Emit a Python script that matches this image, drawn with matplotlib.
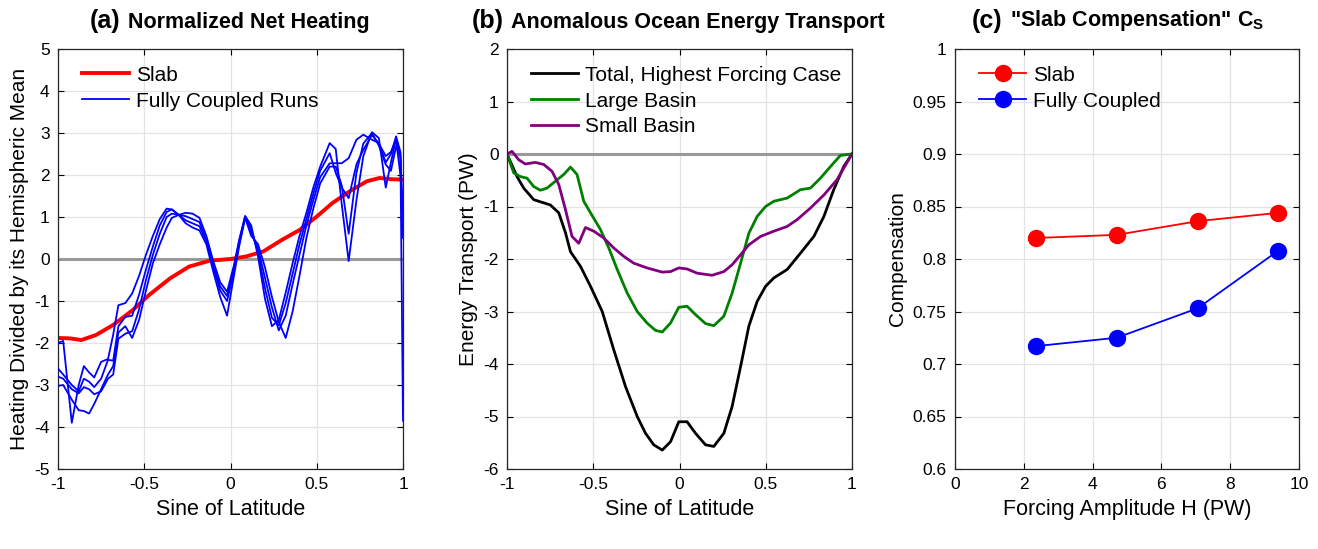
import matplotlib
matplotlib.use("Agg")
from matplotlib import pyplot as plt
from matplotlib.text import Annotation

plt.rcParams['font.family'] = ['Liberation Sans', 'DejaVu Sans']
plt.rcParams['mathtext.fontset'] = 'custom'
plt.rcParams['mathtext.bf'] = 'Liberation Sans:bold'

# ---- panel (a) data ----
slab_x = [-1.0, -0.93, -0.865, -0.78, -0.68, -0.565, -0.47, -0.35, -0.24, -0.12, 0.0,
          0.09, 0.19, 0.30, 0.40, 0.50, 0.59, 0.69, 0.79, 0.865, 0.93, 1.0]
slab_y = [-1.88, -1.89, -1.93, -1.81, -1.57, -1.21, -0.85, -0.46, -0.18, -0.04, 0.0,
          0.06, 0.18, 0.46, 0.69, 1.01, 1.33, 1.61, 1.85, 1.93, 1.90, 1.89]

run_x = [-1.00, -0.97, -0.92, -0.88, -0.85, -0.82, -0.79, -0.75, -0.71, -0.68,
         -0.65, -0.61, -0.57, -0.53, -0.49, -0.45, -0.41, -0.37, -0.34, -0.30,
         -0.26, -0.22, -0.18, -0.14, -0.10, -0.06, -0.02, 0.02, 0.05, 0.085,
         0.12, 0.16, 0.20, 0.24, 0.28, 0.32, 0.36, 0.40, 0.44, 0.48,
         0.52, 0.575, 0.61, 0.645, 0.685, 0.73, 0.77, 0.82, 0.86, 0.90,
         0.93, 0.96, 0.985, 1.00]
run1 = [-2.00, -1.95, -3.90, -3.00, -2.55, -2.70, -2.82, -2.45, -2.38, -1.80,
        -1.10, -1.05, -0.82, -0.40, 0.10, 0.55, 0.95, 1.20, 1.18, 1.05,
        1.10, 1.08, 0.98, 0.55, -0.05, -0.55, -0.78, -0.15, 0.45, 1.02,
        0.80, 0.05, -0.95, -1.60, -1.45, -0.80, -0.10, 0.55, 1.10, 1.70,
        2.20, 2.76, 2.62, 1.30, -0.05, 1.40, 2.45, 3.02, 2.88, 1.70,
        2.30, 2.86, 2.50, -3.85]
run2 = [-2.61, -2.75, -3.00, -3.15, -2.85, -2.92, -3.05, -2.85, -2.40, -2.42,
        -1.60, -1.38, -1.35, -0.85, -0.25, 0.30, 0.80, 1.12, 1.18, 1.05,
        1.02, 0.95, 0.88, 0.45, -0.15, -0.65, -0.88, -0.20, 0.42, 1.02,
        0.72, 0.15, -0.70, -1.40, -1.58, -1.05, -0.35, 0.35, 0.95, 1.55,
        2.10, 2.52, 2.05, 1.70, 1.45, 2.25, 2.60, 2.95, 2.75, 2.45,
        2.55, 2.84, 2.00, 1.00]
run3 = [-2.80, -2.85, -3.10, -3.20, -3.05, -3.10, -3.22, -3.15, -2.85, -2.75,
        -1.90, -1.78, -1.72, -1.20, -0.50, 0.10, 0.60, 1.00, 1.08, 1.05,
        0.92, 0.85, 0.78, 0.42, -0.20, -0.75, -1.00, -0.30, 0.35, 1.00,
        0.62, 0.25, -0.45, -1.15, -1.70, -1.35, -0.60, 0.10, 0.80, 1.40,
        1.95, 2.28, 2.28, 2.28, 2.40, 2.84, 2.96, 2.84, 2.76, 2.30,
        2.50, 2.92, 2.55, 0.50]
run4 = [-3.02, -3.00, -3.35, -3.60, -3.62, -3.68, -3.45, -3.10, -2.75, -2.55,
        -1.75, -1.60, -1.88, -1.45, -0.75, -0.10, 0.35, 0.75, 0.98, 1.05,
        0.85, 0.75, 0.68, 0.35, -0.30, -0.90, -1.35, -0.40, 0.30, 0.98,
        0.55, 0.35, -0.20, -0.90, -1.50, -1.88, -1.25, -0.40, 0.50, 1.20,
        1.80, 2.20, 2.20, 1.75, 0.60, 2.05, 2.75, 3.00, 2.70, 2.25,
        2.10, 2.68, 2.44, 1.00]

# ---- panel (b) data ----
tot_x = [-1.0, -0.942, -0.903, -0.845, -0.807, -0.749, -0.70, -0.661, -0.632, -0.574,
         -0.516, -0.448, -0.381, -0.313, -0.245, -0.197, -0.149, -0.10, -0.052, -0.004,
         0.044, 0.093, 0.151, 0.199, 0.257, 0.305, 0.354, 0.402, 0.450, 0.499,
         0.547, 0.624, 0.701, 0.779, 0.837, 0.894, 0.952, 1.0]
tot_y = [0.0, -0.43, -0.65, -0.87, -0.91, -0.97, -1.12, -1.50, -1.86, -2.14,
         -2.52, -3.00, -3.73, -4.43, -5.00, -5.32, -5.54, -5.64, -5.48, -5.10,
         -5.10, -5.32, -5.54, -5.57, -5.32, -4.81, -4.05, -3.28, -2.81, -2.52,
         -2.36, -2.20, -1.89, -1.57, -1.19, -0.68, -0.24, 0.0]

large_x = [-1.0, -0.961, -0.923, -0.884, -0.845, -0.807, -0.768, -0.720, -0.671, -0.632,
           -0.594, -0.555, -0.516, -0.458, -0.410, -0.361, -0.303, -0.245, -0.188, -0.139,
           -0.10, -0.052, -0.004, 0.044, 0.093, 0.151, 0.199, 0.257, 0.305, 0.354,
           0.402, 0.450, 0.499, 0.547, 0.624, 0.701, 0.759, 0.817, 0.875, 0.932,
           0.971, 1.0]
large_y = [0.0, -0.36, -0.43, -0.46, -0.62, -0.69, -0.65, -0.52, -0.39, -0.25,
           -0.39, -0.90, -1.12, -1.44, -1.79, -2.20, -2.65, -3.00, -3.22, -3.36,
           -3.39, -3.22, -2.92, -2.90, -3.06, -3.23, -3.27, -3.09, -2.65, -2.08,
           -1.51, -1.19, -1.00, -0.90, -0.84, -0.68, -0.65, -0.46, -0.24, -0.03,
           -0.01, 0.0]

small_x = [-1.0, -0.971, -0.932, -0.894, -0.836, -0.787, -0.739, -0.700, -0.661, -0.623,
           -0.584, -0.545, -0.497, -0.439, -0.381, -0.323, -0.265, -0.188, -0.10, -0.052,
           -0.004, 0.044, 0.102, 0.189, 0.257, 0.305, 0.354, 0.402, 0.470, 0.547,
           0.624, 0.682, 0.759, 0.837, 0.913, 1.0]
small_y = [0.0, 0.05, -0.11, -0.19, -0.16, -0.20, -0.33, -0.58, -1.06, -1.57,
           -1.70, -1.40, -1.47, -1.60, -1.79, -1.95, -2.08, -2.17, -2.25, -2.24,
           -2.17, -2.19, -2.27, -2.31, -2.24, -2.11, -1.92, -1.73, -1.57, -1.47,
           -1.38, -1.25, -1.03, -0.78, -0.49, 0.0]

# ---- panel (c) data ----
forcing = [2.35, 4.7, 7.05, 9.4]
comp_slab = [0.820, 0.823, 0.836, 0.844]
comp_coupled = [0.717, 0.725, 0.753, 0.808]

fig = plt.figure(figsize=(13.18, 5.49), dpi=100)
W, H = 1318, 549
def add_ax(left_px, right_px):
    return fig.add_axes([left_px / W, 1 - 469 / H, (right_px - left_px) / W, 420 / H])

ax1 = add_ax(58, 403)
ax2 = add_ax(507, 852)
ax3 = add_ax(955, 1299)

def style(ax):
    ax.grid(True, color='#e3e3e3', linewidth=0.9)
    ax.set_axisbelow(True)
    ax.tick_params(direction='in', top=True, right=True, labelsize=12.5,
                   length=4, width=0.8, pad=6)
    for s in ax.spines.values():
        s.set_linewidth(0.9)
        s.set_color('#262626')

def title(x_px, tag, rest):
    # bigger "(x)" tag followed by the panel title
    t = fig.text(x_px / W, 1 - 33 / H, tag, fontsize=18, fontweight='bold', va='bottom')
    a = Annotation(rest, xy=(1, 0), xycoords=t, xytext=(5, 0), textcoords='offset points',
                   fontsize=15.5, fontweight='bold', va='bottom')
    fig.add_artist(a)

def legend(ax):
    ax.legend(loc='upper left', frameon=False, fontsize=15, handlelength=2.3,
              borderaxespad=0.4, labelspacing=0.33, handletextpad=0.3,
              bbox_to_anchor=(0.02, 1.0))

# (a)
ax1.axhline(0, color='#999999', linewidth=2.2, zorder=1)
ax1.plot(slab_x, slab_y, color='red', linewidth=2.8, label='Slab', zorder=2)
for i, r in enumerate([run1, run2, run3, run4]):
    ax1.plot(run_x, r, color='blue', linewidth=1.3,
             label='Fully Coupled Runs' if i == 0 else None, zorder=3)
ax1.set_xlim(-1, 1)
ax1.set_ylim(-5, 5)
ax1.set_xticks([-1, -0.5, 0, 0.5, 1])
ax1.set_xticklabels(['-1', '-0.5', '0', '0.5', '1'])
ax1.set_yticks(range(-5, 6))
ax1.set_yticklabels([str(v) for v in range(-5, 6)])
ax1.set_xlabel('Sine of Latitude', fontsize=15.5, labelpad=5)
ax1.set_ylabel('Heating Divided by its Hemispheric Mean', fontsize=15)
style(ax1)
legend(ax1)
title(90, '(a)', 'Normalized Net Heating')

# (b)
ax2.axhline(0, color='#999999', linewidth=2.2, zorder=1)
ax2.plot(tot_x, tot_y, color='black', linewidth=2.0, label='Total, Highest Forcing Case')
ax2.plot(large_x, large_y, color='#008000', linewidth=2.0, label='Large Basin')
ax2.plot(small_x, small_y, color='#800080', linewidth=2.0, label='Small Basin')
ax2.set_xlim(-1, 1)
ax2.set_ylim(-6, 2)
ax2.set_xticks([-1, -0.5, 0, 0.5, 1])
ax2.set_xticklabels(['-1', '-0.5', '0', '0.5', '1'])
ax2.set_yticks(range(-6, 3))
ax2.set_yticklabels([str(v) for v in range(-6, 3)])
ax2.set_xlabel('Sine of Latitude', fontsize=15.5, labelpad=5)
ax2.set_ylabel('Energy Transport (PW)', fontsize=15)
style(ax2)
legend(ax2)
title(472, '(b)', 'Anomalous Ocean Energy Transport')

# (c)
ax3.plot(forcing, comp_slab, color='red', marker='o', markersize=11.5, linewidth=1.3, label='Slab')
ax3.plot(forcing, comp_coupled, color='blue', marker='o', markersize=11.5, linewidth=1.3,
         label='Fully Coupled')
ax3.set_xlim(0, 10)
ax3.set_ylim(0.6, 1.0)
ax3.set_xticks(range(0, 11, 2))
ax3.set_yticks([0.6, 0.65, 0.7, 0.75, 0.8, 0.85, 0.9, 0.95, 1.0])
ax3.set_yticklabels(['0.6', '0.65', '0.7', '0.75', '0.8', '0.85', '0.9', '0.95', '1'])
ax3.set_xlabel('Forcing Amplitude H (PW)', fontsize=15.5, labelpad=5)
ax3.set_ylabel('Compensation', fontsize=15)
style(ax3)
legend(ax3)
title(972, '(c)', r'"Slab Compensation" $\mathbf{C_S}$')

fig.savefig('out.png', dpi=100)
